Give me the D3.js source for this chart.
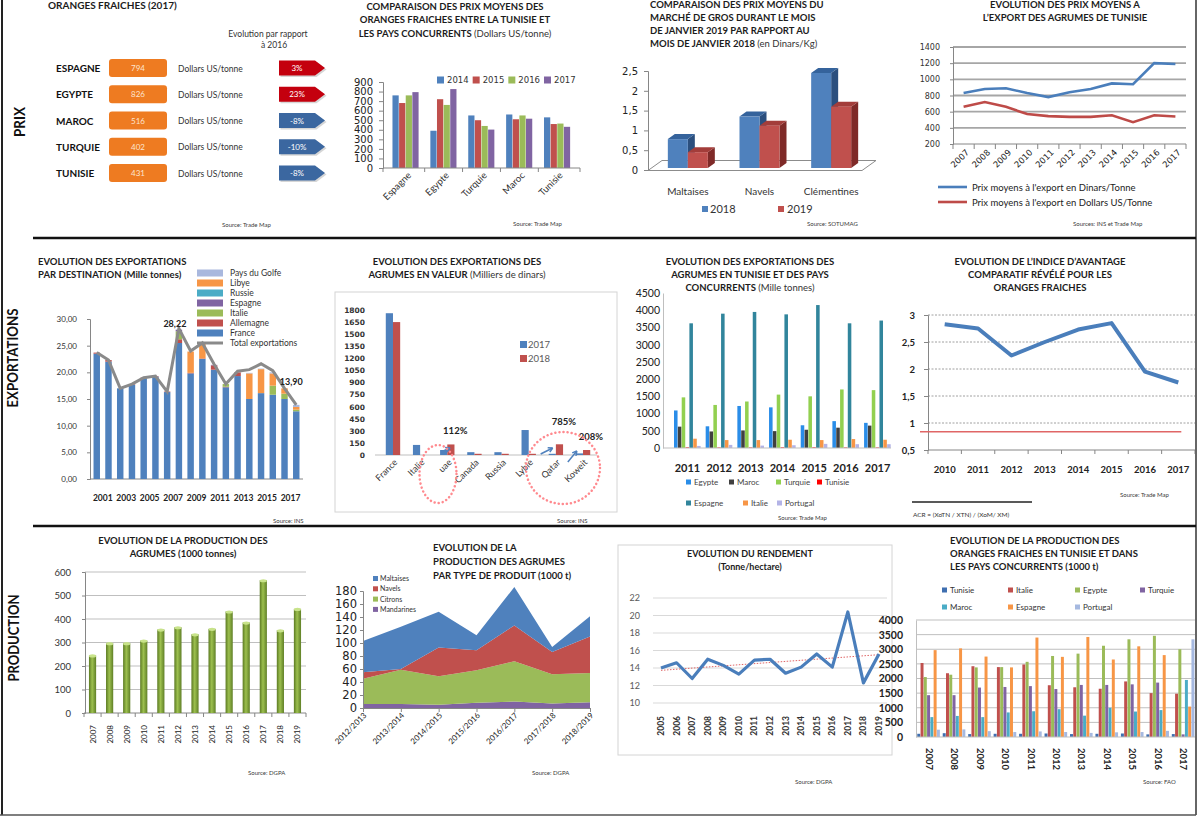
<!DOCTYPE html>
<html>
<head>
<meta charset="utf-8">
<script src="https://cdn.jsdelivr.net/npm/d3@7"></script>
<style>
  body { margin: 0; background: #fff; }
  svg { display: block; font-family: Lato, "Open Sans", sans-serif; }
</style>
</head>
<body>
<svg id="chart" width="1200" height="826"></svg>
<script>
// ---------------- data ----------------
// PRIX: prix des oranges fraiches 2017
const p1Countries = ["ESPAGNE", "EGYPTE", "MAROC", "TURQUIE", "TUNISIE"];
const p1Prices = [794, 826, 516, 402, 431];
const p1Change = [3, 23, -8, -10, -8];

// prix moyens oranges fraiches (Dollars US/tonne)
const p2Countries = ["Espagne", "Egypte", "Turquie", "Maroc", "Tunisie"];
const p2Years = ["2014", "2015", "2016", "2017"];
const p2Y2014 = [760, 390, 550, 560, 530];
const p2Y2015 = [680, 720, 500, 510, 460];
const p2Y2016 = [760, 660, 440, 550, 465];
const p2Y2017 = [794, 826, 402, 516, 431];

// marché de gros janvier (Dinars/Kg)
const p3Cats = ["Maltaises", "Navels", "Clémentines"];
const p3Y2018 = [0.78, 1.35, 2.45];
const p3Y2019 = [0.45, 1.12, 1.6];

// prix moyens à l'export
const p4Years = ["2007", "2008", "2009", "2010", "2011", "2012", "2013", "2014", "2015", "2016", "2017"];
const p4Dinars = [830, 880, 890, 830, 780, 840, 880, 950, 940, 1200, 1190];
const p4Dollars = [660, 720, 660, 570, 545, 535, 535, 555, 470, 555, 540];

// EXPORTATIONS par destination (Mille tonnes)
const p5Years = ["2001", "2002", "2003", "2004", "2005", "2006", "2007", "2008", "2009",
                 "2010", "2011", "2012", "2013", "2014", "2015", "2016", "2017", "2018"];
const p5France    = [23.5, 22.0, 17.0, 17.7, 18.9, 19.2, 16.3, 25.5, 19.8, 22.5, 20.5, 17.2, 19.3, 15.0, 16.1, 15.8, 15.0, 12.7];
const p5Allemagne = [0.2, 0.3, 0, 0.1, 0.1, 0.1, 0.1, 0.7, 0.1, 0.1, 0.8, 0.1, 0.7, 0, 0, 0, 0, 0];
const p5Italie    = [0, 0, 0, 0, 0, 0, 0, 1.5, 0, 0, 0, 0.5, 0, 0, 0, 1.7, 1.0, 0.3];
const p5Espagne   = [0, 0, 0, 0, 0, 0, 0, 0.3, 0, 0, 0.1, 0, 0, 0, 0, 0, 0, 0];
const p5Russie    = [0, 0, 0, 0, 0, 0, 0, 0, 0, 0, 0, 0, 0, 0, 0, 0, 0, 0];
const p5Libye     = [0, 0, 0, 0, 0, 0, 0, 0, 4.0, 2.8, 0, 0, 0, 4.8, 4.5, 2.3, 1.0, 0.5];
const p5Golfe     = [0, 0, 0, 0, 0, 0, 0, 0, 0, 0, 0, 0, 0, 0.1, 0.1, 0.2, 0, 0.4];
const p5Total     = [23.7, 22.3, 17.0, 17.8, 19.0, 19.3, 16.4, 28.22, 24.0, 25.5, 21.5, 17.8, 20.2, 20.5, 21.6, 20.3, 17.0, 13.90];

// exportations en valeur (Milliers de dinars)
const p6Cats = ["France", "Italie", "uae", "Canada", "Russia", "Lybie", "Qatar", "Koweit"];
const p6Y2017 = [1760, 125, 62, 35, 35, 310, 15, 20];
const p6Y2018 = [1650, 0, 131, 15, 15, 15, 133, 62];

// exportations Tunisie et pays concurrents (Mille tonnes)
const p7Years = ["2011", "2012", "2013", "2014", "2015", "2016", "2017"];
const p7Series = ["Egypte", "Maroc", "Turquie", "Tunisie", "Espagne", "Italie", "Portugal"];
const p7Egypte   = [1090, 630, 1220, 1180, 660, 780, 730];
const p7Maroc    = [620, 480, 510, 490, 530, 590, 650];
const p7Turquie  = [1470, 1250, 1350, 1550, 1500, 1700, 1680];
const p7Tunisie  = [20, 15, 15, 20, 20, 15, 15];
const p7Espagne  = [3620, 3900, 3950, 3880, 4150, 3620, 3700];
const p7Italie   = [270, 230, 230, 240, 230, 260, 240];
const p7Portugal = [60, 90, 70, 80, 120, 110, 110];

// indice ACR
const p8Years = ["2010", "2011", "2012", "2013", "2014", "2015", "2016", "2017"];
const p8Acr = [2.83, 2.75, 2.25, 2.5, 2.73, 2.85, 1.95, 1.75];
const p8Reference = 0.84;

// PRODUCTION des agrumes (1000 tonnes)
const p9Years = ["2007", "2008", "2009", "2010", "2011", "2012", "2013", "2014", "2015", "2016", "2017", "2018", "2019"];
const p9Prod = [245, 297, 297, 308, 355, 365, 335, 358, 432, 385, 565, 352, 443];

// production par type de produit (1000 t)
const p10Seasons = ["2012/2013", "2013/2014", "2014/2015", "2015/2016", "2016/2017", "2017/2018", "2018/2019"];
const p10Mandarines = [6, 6, 5, 8, 10, 7, 9];
const p10Citrons    = [39, 53, 44, 50, 62, 45, 45];
const p10Navels     = [10, 1, 44, 31, 55, 34, 56];
const p10Maltaises  = [48, 65, 55, 23, 59, 8, 31];

// rendement (Tonne/hectare)
const p11Years = ["2005", "2006", "2007", "2008", "2009", "2010", "2011", "2012", "2013", "2014", "2015", "2016", "2017", "2018", "2019"];
const p11Yield = [14.0, 14.6, 12.8, 15.0, 14.3, 13.3, 14.9, 15.0, 13.4, 14.1, 15.6, 14.1, 20.4, 12.3, 15.6];

// production oranges fraiches (1000 t)
const p12Years = ["2007", "2008", "2009", "2010", "2011", "2012", "2013", "2014", "2015", "2016", "2017"];
const p12Series = ["Tunisie", "Italie", "Egypte", "Turquie", "Maroc", "Espagne", "Portugal"];
const p12Tunisie  = [110, 130, 100, 110, 110, 120, 100, 110, 120, 90, 100];
const p12Italie   = [2530, 2180, 2420, 2390, 2480, 1770, 1700, 1650, 1900, 1500, 1480];
const p12Egypte   = [2050, 2130, 2380, 2390, 2570, 2770, 2850, 3120, 3340, 3460, 3000];
const p12Turquie  = [1430, 1430, 1690, 1710, 1740, 1640, 1780, 1780, 1800, 1860, 90];
const p12Maroc    = [680, 720, 680, 840, 880, 950, 730, 1000, 870, 920, 1950];
const p12Espagne  = [2970, 3030, 2750, 2380, 3400, 2740, 3420, 2650, 3100, 2800, 1040];
const p12Portugal = [250, 260, 200, 170, 190, 170, 140, 160, 170, 210, 3340];

// ---------------- helpers ----------------
const svg = d3.select("#chart");
const fr = d3.formatLocale({ decimal: ",", thousands: " ", grouping: [3], currency: ["", ""] });
const plain = d3.format("d");
const DEJAVU = "'DejaVu Sans', sans-serif";

function label(g, x, y, s, size, opt = {}) {
  const t = g.append("text").attr("x", x).attr("y", y)
    .attr("font-size", size)
    .attr("font-weight", opt.bold ? 700 : 400)
    .attr("text-anchor", opt.anchor || "start")
    .attr("fill", opt.fill || "#262626")
    .text(s);
  if (opt.family) t.attr("font-family", opt.family);
  return t;
}

function title(g, x, y, lines, anchor, lh = 13.4, size = 9.5) {
  lines.forEach((ln, i) => {
    const parts = Array.isArray(ln) ? ln : [ln];
    const t = g.append("text").attr("x", x).attr("y", y + i * lh)
      .attr("text-anchor", anchor).attr("font-size", size)
      .attr("font-weight", 700).attr("fill", "#1c1c1c");
    t.append("tspan").text(parts[0]);
    if (parts[1]) t.append("tspan").attr("font-weight", 400).attr("fill", "#333").text(parts[1]);
  });
}

function source(g, x, y, s) {
  label(g, x, y, s, 6, { fill: "#3a3a3a" });
}

function styleAxis(sel, size, family, color = "#333", line = "#868686") {
  sel.attr("font-family", family).attr("font-size", size);
  sel.select(".domain").attr("stroke", line);
  sel.selectAll(".tick line").attr("stroke", line);
  sel.selectAll(".tick text").attr("fill", color);
}

// category axis with tick marks between the bands
function catAxis(g, x, y0, tickLen = 4, color = "#868686") {
  const [a, b] = x.range();
  const d = x.domain();
  const edges = [a, ...d.slice(1).map((c, i) => (x(d[i]) + x.bandwidth() + x(c)) / 2), b];
  g.append("line").attr("x1", a).attr("x2", b).attr("y1", y0).attr("y2", y0).attr("stroke", color);
  g.selectAll(null).data(edges).join("line")
    .attr("x1", e => e).attr("x2", e => e).attr("y1", y0).attr("y2", y0 + tickLen)
    .attr("stroke", color);
}

const defs = svg.append("defs");
const green = defs.append("linearGradient").attr("id", "greenBar").attr("x1", 0).attr("x2", 1).attr("y1", 0).attr("y2", 0);
green.append("stop").attr("offset", "0%").attr("stop-color", "#5b7a22");
green.append("stop").attr("offset", "45%").attr("stop-color", "#9dc04f");
green.append("stop").attr("offset", "100%").attr("stop-color", "#5f7f26");
defs.append("clipPath").attr("id", "frameClip").append("rect")
  .attr("x", 0).attr("y", 0).attr("width", 1195).attr("height", 814);

// ---------------- frame ----------------
svg.append("rect").attr("width", 1200).attr("height", 826).attr("fill", "#fff");
const frame = svg.append("g");
frame.append("line").attr("x1", 2).attr("x2", 2).attr("y1", 0).attr("y2", 815).attr("stroke", "#222").attr("stroke-width", 2);
frame.append("line").attr("x1", 1196).attr("x2", 1196).attr("y1", 0).attr("y2", 815).attr("stroke", "#333").attr("stroke-width", 1.5);
frame.append("line").attr("x1", 33).attr("x2", 1196).attr("y1", 238).attr("y2", 238).attr("stroke", "#111").attr("stroke-width", 2.5);
frame.append("line").attr("x1", 33).attr("x2", 1196).attr("y1", 526).attr("y2", 526).attr("stroke", "#111").attr("stroke-width", 2.5);
frame.append("line").attr("x1", 0).attr("x2", 1196).attr("y1", 815).attr("y2", 815).attr("stroke", "#555").attr("stroke-width", 1.5);

[["PRIX", 20, 122, 30], ["EXPORTATIONS", 13, 358, 99], ["PRODUCTION", 14, 638, 87]].forEach(([s, x, y, len]) => {
  frame.append("text").attr("transform", `translate(${x + 5},${y}) rotate(-90)`)
    .attr("text-anchor", "middle").attr("font-size", 15).attr("font-weight", 700)
    .attr("fill", "#111").attr("textLength", len).attr("lengthAdjust", "spacingAndGlyphs").text(s);
});

const root = svg.append("g").attr("clip-path", "url(#frameClip)");

// ---------------- Panel 1: prix 2017 ----------------
{
  const g = root.append("g");
  title(g, 48, 8.5, ["ORANGES FRAICHES (2017)"], "start", 13, 10);
  label(g, 268, 37, "Evolution par rapport", 8.5, { anchor: "middle", fill: "#333" });
  label(g, 274, 48, "à 2016", 8.5, { anchor: "middle", fill: "#333" });
  const y = d3.scalePoint().domain(p1Countries).range([68, 173]);
  p1Countries.forEach((c, i) => {
    const cy = y(c);
    label(g, 56, cy + 4, c, 10, { bold: true, fill: "#111" });
    g.append("rect").attr("x", 109).attr("y", cy - 9).attr("width", 58).attr("height", 18)
      .attr("rx", 3).attr("fill", "#ee7b21");
    label(g, 138, cy + 3, p1Prices[i], 8, { anchor: "middle", fill: "#fde4cf" });
    label(g, 178, cy + 3.5, "Dollars US/tonne", 8.5, { fill: "#333" });
    const col = p1Change[i] > 0 ? "#c4000e" : "#3b67a0";
    g.append("path").attr("d", `M280.5,${cy - 6}H316.5L326.5,${cy + 1.5}L316.5,${cy + 9}H280.5Z`)
      .attr("fill", "#bbb").attr("opacity", 0.6);
    g.append("path").attr("d", `M279,${cy - 7.5}H315L325,${cy}L315,${cy + 7.5}H279Z`).attr("fill", col);
    label(g, 297, cy + 3, p1Change[i] + "%", 8, { anchor: "middle", fill: "#fff" });
  });
  source(g, 222, 227, "Source: Trade Map");
}

// ---------------- Panel 2: prix moyens pays concurrents ----------------
{
  const g = root.append("g");
  title(g, 455, 10, ["COMPARAISON DES PRIX MOYENS DES", "ORANGES FRAICHES ENTRE LA TUNISIE ET",
    ["LES PAYS CONCURRENTS ", "(Dollars US/tonne)"]], "middle", 13.3);
  const series = [p2Y2014, p2Y2015, p2Y2016, p2Y2017];
  const colors = ["#4f81bd", "#c0504d", "#9bbb59", "#8064a2"];
  const x = d3.scaleBand().domain(p2Countries).range([383, 580]).paddingInner(0.3).paddingOuter(0.25);
  const xi = d3.scaleBand().domain(p2Years).range([0, x.bandwidth()]);
  const y = d3.scaleLinear().domain([0, 900]).range([168, 82]);
  p2Years.forEach((yr, k) => {
    g.selectAll(null).data(series[k]).join("rect")
      .attr("x", (d, i) => x(p2Countries[i]) + xi(yr)).attr("width", xi.bandwidth() - 0.4)
      .attr("y", d => y(d)).attr("height", d => y(0) - y(d)).attr("fill", colors[k]);
  });
  const ya = g.append("g").attr("transform", "translate(383,0)")
    .call(d3.axisLeft(y).tickValues(d3.range(0, 901, 100)).tickSize(4).tickPadding(6).tickFormat(plain));
  styleAxis(ya, 10, DEJAVU, "#222");
  catAxis(g, x, 168);
  p2Countries.forEach(c => {
    g.append("text").attr("transform", `translate(${x(c) + x.bandwidth() / 2 + 6},176) rotate(-45)`)
      .attr("text-anchor", "end").attr("font-size", 9.5).attr("fill", "#333").text(c);
  });
  const lx = d3.scalePoint().domain(p2Years).range([437, 544]);
  p2Years.forEach((yr, k) => {
    g.append("rect").attr("x", lx(yr)).attr("y", 76.5).attr("width", 7).attr("height", 7).attr("fill", colors[k]);
    label(g, lx(yr) + 10, 83, yr, 8.5, { fill: "#333", family: DEJAVU });
  });
  source(g, 513, 226, "Source: Trade Map");
}

// ---------------- Panel 3: marché de gros (3D) ----------------
{
  const g = root.append("g");
  title(g, 650, 8, ["COMPARAISON DES PRIX MOYENS DU", "MARCHÉ DE GROS  DURANT LE MOIS",
    "DE JANVIER 2019 PAR RAPPORT AU", ["MOIS DE JANVIER 2018 ", "(en Dinars/Kg)"]], "start", 13);
  const x = d3.scaleBand().domain(p3Cats).range([652, 867]);
  const y = d3.scaleLinear().domain([0, 2.5]).range([170, 71]);
  const dx = 7, dy = -5, bw = 20;
  // floor
  g.append("path").attr("d", "M648,170.5H862L876,160.5H662Z").attr("fill", "none").attr("stroke", "#8c8c8c");
  const ya = g.append("g").attr("transform", "translate(648,0)")
    .call(d3.axisLeft(y).ticks(5).tickSize(4).tickPadding(6).tickFormat(fr.format("~g")));
  styleAxis(ya, 10, DEJAVU, "#222");
  const faces = [
    { vals: p3Y2018, off: -bw, front: "#4f81bd", top: "#35639c", side: "#2b4f7e" },
    { vals: p3Y2019, off: 0, front: "#c0504d", top: "#a33d3a", side: "#7f2a28" }
  ];
  faces.forEach(f => {
    p3Cats.forEach((c, i) => {
      const x0 = x(c) + x.bandwidth() / 2 + f.off, x1 = x0 + bw;
      const yt = y(f.vals[i]), yb = y(0) - 2;
      g.append("path").attr("d", `M${x1},${yt}L${x1 + dx},${yt + dy}V${yb + dy}L${x1},${yb}Z`).attr("fill", f.side);
      g.append("path").attr("d", `M${x0},${yt}H${x1}L${x1 + dx},${yt + dy}H${x0 + dx}Z`).attr("fill", f.top);
      g.append("rect").attr("x", x0).attr("y", yt).attr("width", bw).attr("height", yb - yt).attr("fill", f.front);
    });
  });
  p3Cats.forEach(c => label(g, x(c) + x.bandwidth() / 2, 195, c, 10, { anchor: "middle", fill: "#333" }));
  g.append("rect").attr("x", 702).attr("y", 206).attr("width", 6).attr("height", 6).attr("fill", "#4f81bd");
  label(g, 710, 213, "2018", 11, { fill: "#333" });
  g.append("rect").attr("x", 778).attr("y", 206).attr("width", 6).attr("height", 6).attr("fill", "#c0504d");
  label(g, 787, 213, "2019", 11, { fill: "#333" });
  source(g, 807, 226, "Source: SOTUMAG");
}

// ---------------- Panel 4: prix moyens à l'export ----------------
{
  const g = root.append("g");
  title(g, 1065, 8, ["EVOLUTION DES PRIX MOYENS A", "L’EXPORT DES AGRUMES DE TUNISIE"], "middle", 13);
  const x = d3.scaleBand().domain(p4Years).range([953, 1186]);
  const y = d3.scaleLinear().domain([200, 1400]).range([144, 47]);
  g.selectAll(null).data(d3.range(400, 1401, 200)).join("line")
    .attr("x1", 953).attr("x2", 1186).attr("y1", d => y(d)).attr("y2", d => y(d))
    .attr("stroke", "#a6a6a6").attr("stroke-width", 1.8);
  const ya = g.append("g").attr("transform", "translate(953,0)")
    .call(d3.axisLeft(y).ticks(6).tickSize(3).tickPadding(10).tickFormat(plain));
  styleAxis(ya, 8, DEJAVU, "#333");
  catAxis(g, x, 144, 5);
  const cx = d => x(d) + x.bandwidth() / 2;
  const line = vals => d3.line().x((d, i) => cx(p4Years[i])).y(d => y(d))(vals);
  g.append("path").attr("d", line(p4Dinars)).attr("fill", "none").attr("stroke", "#4a7ebb").attr("stroke-width", 2.6);
  g.append("path").attr("d", line(p4Dollars)).attr("fill", "none").attr("stroke", "#be4b48").attr("stroke-width", 2.6);
  p4Years.forEach(yr => {
    g.append("text").attr("transform", `translate(${cx(yr) + 6},153) rotate(-45)`)
      .attr("text-anchor", "end").attr("font-size", 8.5).attr("font-family", DEJAVU).attr("fill", "#222").text(yr);
  });
  [["#4a7ebb", "Prix moyens à l'export en Dinars/Tonne", 187], ["#be4b48", "Prix moyens à l'export en Dollars US/Tonne", 202]]
    .forEach(([c, s, ly]) => {
      g.append("line").attr("x1", 938).attr("x2", 967).attr("y1", ly).attr("y2", ly).attr("stroke", c).attr("stroke-width", 2.6);
      label(g, 972, ly + 3.5, s, 9.5, { fill: "#222" });
    });
  source(g, 1073, 226, "Sources: INS et Trade Map");
}

// ---------------- Panel 5: exportations par destination ----------------
{
  const g = root.append("g");
  title(g, 38, 265, ["EVOLUTION DES EXPORTATIONS", "PAR DESTINATION (Mille tonnes)"], "start", 13, 9.5);
  const keys = ["France", "Allemagne", "Italie", "Espagne", "Russie", "Libye", "Pays du Golfe"];
  const colors = { "France": "#4f81bd", "Allemagne": "#c0504d", "Italie": "#9bbb59", "Espagne": "#8064a2",
                   "Russie": "#4bacc6", "Libye": "#f79646", "Pays du Golfe": "#a9b8de" };
  const cols = [p5France, p5Allemagne, p5Italie, p5Espagne, p5Russie, p5Libye, p5Golfe];
  const rows = p5Years.map((yr, i) => {
    const r = { yr };
    keys.forEach((k, j) => { r[k] = cols[j][i]; });
    return r;
  });
  const stacked = d3.stack().keys(keys)(rows);
  const x = d3.scaleBand().domain(p5Years).range([90, 303]).paddingInner(0.45).paddingOuter(0.3);
  const y = d3.scaleLinear().domain([0, 30]).range([479, 319]);
  const ya = g.append("g").attr("transform", "translate(90,0)")
    .call(d3.axisLeft(y).ticks(6).tickSize(3).tickPadding(10).tickFormat(fr.format(".2f")));
  styleAxis(ya, 8, "Lato, sans-serif", "#333");
  g.append("line").attr("x1", 90).attr("x2", 303).attr("y1", 479).attr("y2", 479).attr("stroke", "#868686");
  stacked.forEach(s => {
    g.selectAll(null).data(s).join("rect")
      .attr("x", d => x(d.data.yr)).attr("width", x.bandwidth())
      .attr("y", d => y(d[1])).attr("height", d => y(d[0]) - y(d[1]))
      .attr("fill", colors[s.key]);
  });
  const cx = yr => x(yr) + x.bandwidth() / 2;
  g.append("path").attr("d", d3.line().x((d, i) => cx(p5Years[i])).y(d => y(d))(p5Total))
    .attr("fill", "none").attr("stroke", "#8a8a8a").attr("stroke-width", 3);
  p5Years.forEach((yr, i) => {
    if (i % 2 === 0) label(g, cx(yr) + 6, 501, yr, 8.5, { anchor: "middle", bold: true, fill: "#222" });
  });
  label(g, cx("2008") - 4, y(p5Total[7]) - 1, fr.format(".2f")(p5Total[7]), 9, { anchor: "middle", bold: true, fill: "#222" });
  label(g, cx("2018") - 5, y(p5Total[17]) - 20, fr.format(".2f")(p5Total[17]), 9, { anchor: "middle", bold: true, fill: "#222" });
  const legend = ["Pays du Golfe", "Libye", "Russie", "Espagne", "Italie", "Allemagne", "France"];
  const ly = d3.scalePoint().domain([...legend, "Total exportations"]).range([273, 343]);
  legend.forEach(k => {
    g.append("rect").attr("x", 197).attr("y", ly(k) - 3.5).attr("width", 26).attr("height", 7).attr("fill", colors[k]);
    label(g, 230, ly(k) + 3, k, 8.5, { fill: "#333" });
  });
  g.append("line").attr("x1", 197).attr("x2", 223).attr("y1", ly("Total exportations")).attr("y2", ly("Total exportations"))
    .attr("stroke", "#8a8a8a").attr("stroke-width", 3);
  label(g, 230, ly("Total exportations") + 3, "Total exportations", 8.5, { fill: "#333" });
  source(g, 273, 523, "Source: INS");
}

// ---------------- Panel 6: exportations en valeur ----------------
{
  const g = root.append("g");
  title(g, 457, 265, ["EVOLUTION DES EXPORTATIONS DES", ["AGRUMES EN VALEUR ", "(Milliers de dinars)"]], "middle", 13.3);
  g.append("rect").attr("x", 335).attr("y", 292).attr("width", 282).attr("height", 220)
    .attr("fill", "none").attr("stroke", "#d4d4d4");
  const x = d3.scaleBand().domain(p6Cats).range([379, 597]).paddingInner(0.47).paddingOuter(0.25);
  const y = d3.scaleLinear().domain([0, 1800]).range([455, 310]);
  const ya = g.append("g").attr("transform", "translate(366,0)")
    .call(d3.axisLeft(y).tickValues(d3.range(0, 1801, 150)).tickSize(0).tickPadding(1).tickFormat(plain));
  styleAxis(ya, 7.5, DEJAVU, "#333");
  ya.select(".domain").remove();
  ya.selectAll(".tick text").attr("font-weight", 700);
  g.append("line").attr("x1", 375).attr("x2", 597).attr("y1", 455).attr("y2", 455).attr("stroke", "#bfbfbf");
  const hb = x.bandwidth() / 2;
  g.selectAll(null).data(p6Y2017).join("rect")
    .attr("x", (d, i) => x(p6Cats[i])).attr("width", hb)
    .attr("y", d => y(d)).attr("height", d => y(0) - y(d)).attr("fill", "#4f81bd");
  g.selectAll(null).data(p6Y2018).join("rect")
    .attr("x", (d, i) => x(p6Cats[i]) + hb).attr("width", hb)
    .attr("y", d => y(d)).attr("height", d => y(0) - y(d)).attr("fill", "#c0504d");
  p6Cats.forEach(c => {
    g.append("text").attr("transform", `translate(${x(c) + hb + 5},463) rotate(-45)`)
      .attr("text-anchor", "end").attr("font-size", 9).attr("fill", "#333").text(c);
  });
  g.append("rect").attr("x", 520).attr("y", 341).attr("width", 7).attr("height", 7).attr("fill", "#4f81bd");
  label(g, 528, 348, "2017", 9.5, { fill: "#595959" });
  g.append("rect").attr("x", 520).attr("y", 355).attr("width", 7).attr("height", 7).attr("fill", "#c0504d");
  label(g, 528, 362, "2018", 9.5, { fill: "#595959" });
  // growth annotations
  const growth = [["uae", "112%", 0], ["Qatar", "785%", -9], ["Koweit", "208%", 0]];
  growth.forEach(([c, s, oy]) => {
    label(g, x(c) + hb + 8, y(d3.max([p6Y2017[p6Cats.indexOf(c)], p6Y2018[p6Cats.indexOf(c)]])) - 10 + oy, s, 9.5,
      { anchor: "middle", bold: true, fill: "#222" });
  });
  const arrow = (x1, y1, x2, y2) => {
    g.append("line").attr("x1", x1).attr("y1", y1).attr("x2", x2).attr("y2", y2).attr("stroke", "#4f81bd").attr("stroke-width", 1.5);
    const a = Math.atan2(y2 - y1, x2 - x1);
    g.append("path").attr("d", `M${x2},${y2}L${x2 - 5 * Math.cos(a - 0.5)},${y2 - 5 * Math.sin(a - 0.5)}M${x2},${y2}L${x2 - 5 * Math.cos(a + 0.5)},${y2 - 5 * Math.sin(a + 0.5)}`)
      .attr("stroke", "#4f81bd").attr("stroke-width", 1.5).attr("fill", "none");
  };
  arrow(x("uae") + 1, 452, x("uae") + 10, 448);
  arrow(x("Qatar") - 8, 454, x("Qatar") + 4, 448);
  arrow(x("Koweit") - 8, 462, x("Koweit") + 1, 451);
  g.append("ellipse").attr("cx", 438).attr("cy", 474).attr("rx", 18.5).attr("ry", 29)
    .attr("fill", "none").attr("stroke", "#ff8a8f").attr("stroke-width", 2.5).attr("stroke-dasharray", "0.1 4").attr("stroke-linecap", "round");
  g.append("ellipse").attr("cx", 563).attr("cy", 468).attr("rx", 37).attr("ry", 36)
    .attr("fill", "none").attr("stroke", "#ff8a8f").attr("stroke-width", 2.5).attr("stroke-dasharray", "0.1 4").attr("stroke-linecap", "round");
  source(g, 557, 523, "Source: INS");
}

// ---------------- Panel 7: exportations pays concurrents ----------------
{
  const g = root.append("g");
  title(g, 750, 265, ["EVOLUTION DES EXPORTATIONS DES", "AGRUMES EN TUNISIE ET DES PAYS",
    ["CONCURRENTS ", "(Mille tonnes)"]], "middle", 13);
  const series = [p7Egypte, p7Maroc, p7Turquie, p7Tunisie, p7Espagne, p7Italie, p7Portugal];
  const colors = ["#2a8de8", "#404040", "#92d050", "#ff0000", "#31859c", "#f79646", "#b3b3e6"];
  const x = d3.scaleBand().domain(p7Years).range([674, 891]).paddingInner(0.15);
  const xi = d3.scaleBand().domain(p7Series).range([0, x.bandwidth()]);
  const y = d3.scaleLinear().domain([0, 4500]).range([448, 293]);
  p7Series.forEach((s, k) => {
    g.selectAll(null).data(series[k]).join("rect")
      .attr("x", (d, i) => x(p7Years[i]) + xi(s)).attr("width", xi.bandwidth() - 0.3)
      .attr("y", d => y(d)).attr("height", d => y(0) - y(d)).attr("fill", colors[k]);
  });
  const ya = g.append("g").attr("transform", "translate(663,0)")
    .call(d3.axisLeft(y).tickValues(d3.range(0, 4501, 500)).tickSize(0).tickPadding(3).tickFormat(plain));
  styleAxis(ya, 10.5, "Lato, sans-serif", "#222", "#bfbfbf");
  g.append("line").attr("x1", 663).attr("x2", 891).attr("y1", 448).attr("y2", 448).attr("stroke", "#bfbfbf");
  p7Years.forEach(yr => label(g, x(yr) + x.bandwidth() / 2, 472, yr, 11, { anchor: "middle", bold: true, fill: "#222" }));
  const legendPos = [[686, 482], [729, 482], [776, 482], [817, 482], [686, 503], [743, 503], [777, 503]];
  p7Series.forEach((s, k) => {
    const [lx, ly] = legendPos[k];
    g.append("rect").attr("x", lx).attr("y", ly - 2.5).attr("width", 5).attr("height", 5).attr("fill", colors[k]);
    label(g, lx + 8, ly + 3, s, 8, { fill: "#444" });
  });
  source(g, 778, 520, "Source: Trade Map");
}

// ---------------- Panel 8: indice ACR ----------------
{
  const g = root.append("g");
  title(g, 1040, 265, ["EVOLUTION DE L’INDICE D’AVANTAGE", "COMPARATIF RÉVÉLÉ POUR LES", "ORANGES FRAICHES"], "middle", 13);
  const x = d3.scaleBand().domain(p8Years).range([928, 1195]);
  const y = d3.scaleLinear().domain([0.5, 3]).range([450, 315]);
  g.selectAll(null).data([1, 1.5, 2, 2.5, 3]).join("line")
    .attr("x1", 928).attr("x2", 1195).attr("y1", d => y(d)).attr("y2", d => y(d))
    .attr("stroke", "#a0a0a0").attr("stroke-dasharray", "2,1.5");
  const ya = g.append("g").attr("transform", "translate(928,0)")
    .call(d3.axisLeft(y).tickValues([0.5, 1, 1.5, 2, 2.5, 3]).tickSize(4).tickPadding(9).tickFormat(fr.format("~g")));
  styleAxis(ya, 9.5, "Lato, sans-serif", "#222");
  ya.selectAll(".tick text").attr("font-weight", 700);
  catAxis(g, x, 450, 4);
  const cx = yr => x(yr) + x.bandwidth() / 2;
  g.append("line").attr("x1", 920).attr("x2", cx("2017") + 3).attr("y1", y(p8Reference)).attr("y2", y(p8Reference))
    .attr("stroke", "#e06666").attr("stroke-width", 1.5);
  g.append("path").attr("d", d3.line().x((d, i) => cx(p8Years[i])).y(d => y(d))(p8Acr))
    .attr("fill", "none").attr("stroke", "#4a7ebb").attr("stroke-width", 4).attr("stroke-linejoin", "round");
  p8Years.forEach(yr => label(g, cx(yr), 473, yr, 9.5, { anchor: "middle", bold: true, fill: "#222" }));
  g.append("line").attr("x1", 912).attr("x2", 1032).attr("y1", 502).attr("y2", 502).attr("stroke", "#222").attr("stroke-width", 1.5);
  label(g, 913, 517, "ACR = (XoTN / XTN) / (XoM/ XM)", 6.5, { fill: "#333" });
  source(g, 1120, 497, "Source: Trade Map");
}

// ---------------- Panel 9: production des agrumes ----------------
{
  const g = root.append("g");
  title(g, 183, 544, ["EVOLUTION DE LA PRODUCTION DES", "AGRUMES  (1000 tonnes)"], "middle", 13);
  const x = d3.scaleBand().domain(p9Years).range([84, 306]).paddingInner(0.58).paddingOuter(0.29);
  const y = d3.scaleLinear().domain([0, 600]).range([713, 572]);
  g.selectAll(null).data(d3.range(100, 601, 100)).join("line")
    .attr("x1", 85).attr("x2", 306).attr("y1", d => y(d)).attr("y2", d => y(d)).attr("stroke", "#bfbfbf");
  const ya = g.append("g").attr("transform", "translate(85,0)")
    .call(d3.axisLeft(y).ticks(6).tickSize(3).tickPadding(11));
  styleAxis(ya, 9.5, "Lato, sans-serif", "#333");
  catAxis(g, x, 713, 4);
  g.selectAll(null).data(p9Prod).join("rect")
    .attr("x", (d, i) => x(p9Years[i])).attr("width", x.bandwidth())
    .attr("y", d => y(d)).attr("height", d => y(0) - y(d)).attr("fill", "url(#greenBar)");
  g.selectAll(null).data(p9Prod).join("ellipse")
    .attr("cx", (d, i) => x(p9Years[i]) + x.bandwidth() / 2).attr("cy", d => y(d) + 0.5)
    .attr("rx", x.bandwidth() / 2).attr("ry", 1.6).attr("fill", "#c8e38a");
  p9Years.forEach(yr => {
    g.append("text").attr("transform", `translate(${x(yr) + x.bandwidth() / 2 + 3},725) rotate(-90)`)
      .attr("text-anchor", "end").attr("font-size", 8).attr("fill", "#222").text(yr);
  });
  source(g, 248, 775, "Source: DGPA");
}

// ---------------- Panel 10: production par type de produit ----------------
{
  const g = root.append("g");
  title(g, 433, 551, ["EVOLUTION DE LA", "PRODUCTION DES AGRUMES", "PAR TYPE DE PRODUIT (1000 t)"], "start", 14);
  const keys = ["Mandarines", "Citrons", "Navels", "Maltaises"];
  const colors = { "Mandarines": "#8064a2", "Citrons": "#9bbb59", "Navels": "#c0504d", "Maltaises": "#4f81bd" };
  const cols = [p10Mandarines, p10Citrons, p10Navels, p10Maltaises];
  const rows = p10Seasons.map((s, i) => {
    const r = { s };
    keys.forEach((k, j) => { r[k] = cols[j][i]; });
    return r;
  });
  const stacked = d3.stack().keys(keys)(rows);
  const x = d3.scalePoint().domain(p10Seasons).range([363, 590]);
  const y = d3.scaleLinear().domain([0, 180]).range([708, 591]);
  const area = d3.area().x(d => x(d.data.s)).y0(d => y(d[0])).y1(d => y(d[1]));
  g.selectAll(null).data(stacked).join("path").attr("d", area).attr("fill", d => colors[d.key]);
  const ya = g.append("g").attr("transform", "translate(363,0)")
    .call(d3.axisLeft(y).tickValues(d3.range(0, 181, 20)).tickSize(3).tickPadding(3));
  styleAxis(ya, 11.5, DEJAVU, "#222");
  const xa = g.append("g").attr("transform", "translate(0,708)")
    .call(d3.axisBottom(x).tickSize(4).tickFormat(""));
  styleAxis(xa, 8, DEJAVU);
  p10Seasons.forEach(s => {
    g.append("text").attr("transform", `translate(${x(s) + 4},716) rotate(-45)`)
      .attr("text-anchor", "end").attr("font-size", 8).attr("fill", "#222").text(s);
  });
  ["Maltaises", "Navels", "Citrons", "Mandarines"].forEach((k, i) => {
    g.append("rect").attr("x", 373).attr("y", 576 + i * 10.3).attr("width", 5).attr("height", 5).attr("fill", colors[k]);
    label(g, 380, 581 + i * 10.3, k, 7, { fill: "#333" });
  });
  source(g, 532, 775, "Source: DGPA");
}

// ---------------- Panel 11: rendement ----------------
{
  const g = root.append("g");
  g.append("rect").attr("x", 618).attr("y", 545).attr("width", 274).attr("height", 210)
    .attr("fill", "#fff").attr("stroke", "#d4d4d4");
  title(g, 750, 557, ["EVOLUTION DU RENDEMENT", "(Tonne/hectare)"], "middle", 13, 9);
  const x = d3.scalePoint().domain(p11Years).range([661, 879]);
  const y = d3.scaleLinear().domain([10, 22]).range([703, 598]);
  g.selectAll(null).data(d3.range(10, 23, 2)).join("line")
    .attr("x1", 653).attr("x2", 887).attr("y1", d => y(d)).attr("y2", d => y(d)).attr("stroke", "#d9d9d9");
  const ya = g.append("g").attr("transform", "translate(645,0)")
    .call(d3.axisLeft(y).tickValues(d3.range(10, 23, 2)).tickSize(0).tickPadding(5));
  styleAxis(ya, 9, "Lato, sans-serif", "#595959");
  ya.select(".domain").remove();
  // linear trend (Excel trendline) computed from the series
  const xs = p11Yield.map((d, i) => i);
  const mx = d3.mean(xs), my = d3.mean(p11Yield);
  const slope = d3.sum(xs, i => (i - mx) * (p11Yield[i] - my)) / d3.sum(xs, i => (i - mx) ** 2);
  const last = p11Years.length - 1;
  g.append("line").attr("x1", x(p11Years[0])).attr("x2", x(p11Years[last]))
    .attr("y1", y(my - slope * mx)).attr("y2", y(my + slope * (last - mx)))
    .attr("stroke", "#e06666").attr("stroke-width", 1).attr("stroke-dasharray", "1.5,1.5");
  g.append("path").attr("d", d3.line().x((d, i) => x(p11Years[i])).y(d => y(d))(p11Yield))
    .attr("fill", "none").attr("stroke", "#4a7ebb").attr("stroke-width", 3.2).attr("stroke-linejoin", "round");
  p11Years.forEach(yr => {
    g.append("text").attr("transform", `translate(${x(yr) + 3},716) rotate(-90)`)
      .attr("text-anchor", "end").attr("font-size", 8.5).attr("font-weight", 700).attr("fill", "#333").text(yr);
  });
  source(g, 795, 784, "Source: DGPA");
}

// ---------------- Panel 12: production oranges fraiches ----------------
{
  const g = root.append("g");
  title(g, 950, 544, ["EVOLUTION DE LA PRODUCTION DES", "ORANGES FRAICHES EN TUNISIE ET DANS",
    "LES PAYS CONCURRENTS (1000 t)"], "start", 13);
  const series = [p12Tunisie, p12Italie, p12Egypte, p12Turquie, p12Maroc, p12Espagne, p12Portugal];
  const colors = ["#3f6fb0", "#c0504d", "#9bbb59", "#8064a2", "#4bacc6", "#f79646", "#a6b9e0"];
  const x = d3.scaleBand().domain(p12Years).range([916, 1196]).paddingInner(0.1).paddingOuter(0.05);
  const xi = d3.scaleBand().domain(p12Series).range([0, x.bandwidth()]);
  const y = d3.scaleLinear().domain([0, 4000]).range([737, 620]);
  g.selectAll(null).data(d3.range(500, 4001, 500)).join("line")
    .attr("x1", 916).attr("x2", 1196).attr("y1", d => y(d)).attr("y2", d => y(d)).attr("stroke", "#bfbfbf");
  p12Series.forEach((s, k) => {
    g.selectAll(null).data(series[k]).join("rect")
      .attr("x", (d, i) => x(p12Years[i]) + xi(s)).attr("width", xi.bandwidth() - 0.3)
      .attr("y", d => y(d)).attr("height", d => y(0) - y(d)).attr("fill", colors[k]);
  });
  const ya = g.append("g").attr("transform", "translate(916,0)")
    .call(d3.axisLeft(y).tickValues(d3.range(0, 4001, 500)).tickSize(0).tickPadding(13).tickFormat(plain));
  styleAxis(ya, 10.5, "Lato, sans-serif", "#222", "#bfbfbf");
  ya.selectAll(".tick text").attr("font-weight", 700);
  g.append("line").attr("x1", 916).attr("x2", 1196).attr("y1", 737).attr("y2", 737).attr("stroke", "#bfbfbf");
  p12Years.forEach(yr => {
    g.append("text").attr("transform", `translate(${x(yr) + x.bandwidth() / 2 - 3},748) rotate(90)`)
      .attr("text-anchor", "start").attr("font-size", 9.5).attr("font-weight", 700).attr("fill", "#222").text(yr);
  });
  const legendPos = [[942, 590], [1008, 590], [1075, 590], [1140, 590], [942, 607], [1008, 607], [1075, 607]];
  p12Series.forEach((s, k) => {
    const [lx, ly] = legendPos[k];
    g.append("rect").attr("x", lx).attr("y", ly - 2.5).attr("width", 5).attr("height", 5).attr("fill", colors[k]);
    label(g, lx + 8, ly + 3, s, 8, { fill: "#333" });
  });
  source(g, 1143, 784, "Source: FAO");
}
</script>
</body>
</html>
